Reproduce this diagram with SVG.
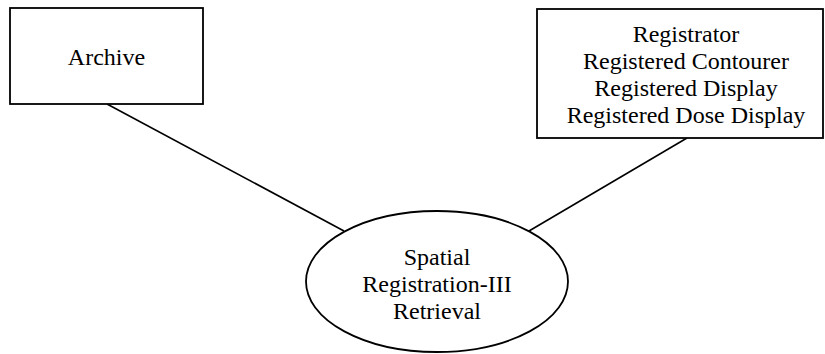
<svg xmlns="http://www.w3.org/2000/svg" width="825" height="354" viewBox="0 0 825 354">
<style>
.box{fill:#fff;stroke:#000;stroke-width:1.8}
.lbl{font-family:"Liberation Serif","Times New Roman",serif;font-size:24px;fill:#000;text-anchor:middle}
.con{stroke:#000;stroke-width:1.6;fill:none}
</style>
<rect width="825" height="354" fill="#fff"/>
<g id="connectors">
<line class="con" x1="107" y1="104" x2="344" y2="231"/>
<line class="con" x1="687" y1="138" x2="529" y2="231"/>
</g>
<g id="archive">
<rect class="box" x="10" y="8" width="193" height="96"/>
<text class="lbl" x="106.5" y="65">Archive</text>
</g>
<g id="registrator">
<rect class="box" x="537" y="9" width="286" height="129"/>
<text class="lbl" x="686" y="42">Registrator</text>
<text class="lbl" x="686" y="69">Registered Contourer</text>
<text class="lbl" x="686" y="96">Registered Display</text>
<text class="lbl" x="686" y="123">Registered Dose Display</text>
</g>
<g id="retrieval">
<ellipse class="box" cx="437" cy="281.5" rx="131" ry="70.5"/>
<text class="lbl" x="437" y="265">Spatial</text>
<text class="lbl" x="437" y="292">Registration-III</text>
<text class="lbl" x="437" y="319">Retrieval</text>
</g>
</svg>
